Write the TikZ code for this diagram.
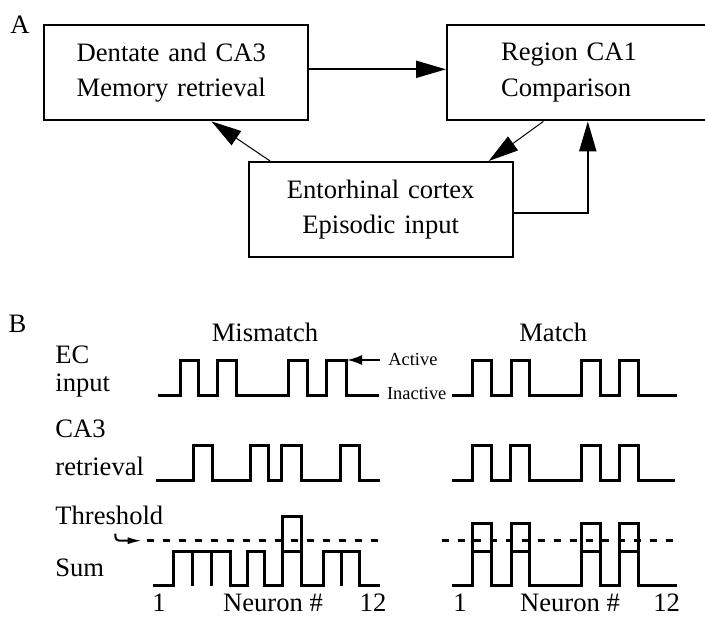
\documentclass[tikz,border=0pt]{standalone}
\usepackage{fontspec}
\setmainfont{Liberation Serif}
\usetikzlibrary{arrows.meta,calc,positioning}
\newcommand{\labelfont}{\fontsize{13.3}{14.2}\selectfont}
\newcommand{\boxfont}{\fontsize{13.3}{17.85}\selectfont}
\newcommand{\tinyfont}{\fontsize{9.2}{11}\selectfont}
\tikzset{
  regionbox/.style={draw,line width=1pt,anchor=north west,align=left,minimum height=47.7pt,inner ysep=0pt,font=\boxfont},
  bigtip/.style={-{Triangle[length=15pt,width=8.5pt]}},
  link/.style={bigtip,line width=1pt},
  thinlink/.style={bigtip,line width=0.5pt},
  wave/.style={line width=1.5pt,line join=miter},
  threshline/.style={line width=1.5pt,dash pattern=on 3.5pt off 4.5pt},
  hookarrow/.style={-{Latex[length=7pt,width=3.5pt]},line width=1pt,rounded corners=2pt},
  activearrow/.style={-{Latex[length=7.5pt,width=5pt]},line width=1pt},
  txt/.style={inner sep=0pt,font=\labelfont},
  smalltxt/.style={inner sep=0pt,font=\tinyfont}
}

\begin{document}
\begin{tikzpicture}[x=0.5pt,y=-0.5pt]
  \clip (0,0) rectangle (705,616);
  \node[txt,anchor=base west] (panelA) at (10,33.3) {A};
  \node[regionbox,text width=99.2pt,inner xsep=16.5pt] (dentate) at (42.7,24) {Dentate and CA3\\Memory retrieval};
  \node[regionbox,text width=88pt,inner xsep=27pt] (ca1) at (446,24) {Region CA1\\Comparison};
  \node[regionbox,align=center,text width=120pt,inner xsep=6pt] (entorhinal) at (247.7,161) {Entorhinal cortex\\Episodic input};
  \draw[link] ([yshift=1.7pt]dentate.east) -- ([yshift=1.7pt]dentate.east -| ca1.west);
  \draw[thinlink] ([xshift=11.2pt]entorhinal.north west) -- ([xshift=84.4pt]dentate.south west);
  \draw[thinlink] ([xshift=48.7pt]ca1.south west) -- ([xshift=-12.5pt]entorhinal.north east);
  \draw[link] ([yshift=-1.7pt]entorhinal.east) -| ([xshift=70.9pt]ca1.south west);

  \node[txt,anchor=base west] (panelB) at (8.3,332.7) {B};
  \node[txt,anchor=base] (mismatchTitle) at (265,341.7) {Mismatch};
  \node[txt,anchor=base] (matchTitle) at (553.3,341.7) {Match};
  \node[txt,anchor=base west] (ecLabel) at (55,363.3) {EC};
  \node[txt,anchor=base west] (ecLabel2) at (55,391) {input};
  \node[txt,anchor=base west] (caLabel) at (55,437) {CA3};
  \node[txt,anchor=base west] (caLabel2) at (55,475) {retrieval};
  \node[txt,anchor=base west] (threshLabel) at (55,524) {Threshold};
  \node[txt,anchor=base west] (sumLabel) at (55,576.7) {Sum};
  \node[smalltxt,anchor=base west] (activeLabel) at (388,365) {Active};
  \node[smalltxt,anchor=base west] (inactiveLabel) at (386.7,399) {Inactive};

  \draw[wave] (158.3,395) -| (180,360) -| (198.3,395) -| (217.7,360) -| (236.7,395) -| (288.3,360) -| (307.3,395) -| (326.7,360) -| (346,395) -- (379.3,395);
  \draw[wave] (451.7,395) -| (472.3,360) -| (491,395) -| (511,360) -| (529.3,395) -| (581,360) -| (600,395) -| (619.3,360) -| (638.3,395) -- (676.7,395);
  \coordinate (ecTop) at (347,360);
  \coordinate (activeTail) at (380,360);
  \draw[activearrow] (activeTail) -- (ecTop);

  \draw[wave] (155.7,480.7) -| (193.3,445) -| (212.3,480.7) -| (250,445) -| (268.3,480.7) -| (281.7,445) -| (301.7,480.7) -| (340,445) -| (359.3,480.7) -- (380,480.7);
  \draw[wave] (451.7,480.7) -| (472.3,445) -| (491,480.7) -| (510,445) -| (529.3,480.7) -| (581,445) -| (600,480.7) -| (619.3,445) -| (638.3,480.7) -- (675,480.7);

  \draw[wave] (153.3,585.7) -| (173.3,551) -| (230,585.7) -| (247.7,551) -| (264.3,585.7) -| (282.7,516.7) -| (301.7,585.7) -| (323.3,551) -| (359.3,585.7) -- (380,585.7);
  \draw[wave] (192.7,551) -- (192.7,585.7) (211.7,551) -- (211.7,585.7) (341.7,551) -- (341.7,585.7) (282.7,551) -- (301.7,551);
  \draw[wave] (451.7,585.7) -| (472.3,523.3) -| (491,585.7) -| (511,523.3) -| (529.3,585.7) -| (581,523.3) -| (600,585.7) -| (619.3,523.3) -| (638.3,585.7) -- (676.7,585.7);
  \draw[wave] (472.3,551.7) -- (491,551.7) (511,551.7) -- (529.3,551.7) (581,551.7) -- (600,551.7) (619.3,551.7) -- (638.3,551.7);

  \draw[threshline] (146.7,540.7) -- (381.7,540.7);
  \draw[threshline] (441.7,540.7) -- (676.7,540.7);
  \coordinate (thrStart) at (141.7,540.7);
  \draw[hookarrow] ([xshift=3pt,yshift=-4.5pt]threshLabel.south) |- (thrStart);

  \node[txt,anchor=base] (firstA) at (159,611.7) {1};
  \node[txt,anchor=base] (neuronA) at (273,611.7) {Neuron \#};
  \node[txt,anchor=base] (lastA) at (373,611.7) {12};
  \node[txt,anchor=base] (firstB) at (460,611.7) {1};
  \node[txt,anchor=base] (neuronB) at (570,611.7) {Neuron \#};
  \node[txt,anchor=base] (lastB) at (666.7,611.7) {12};
\end{tikzpicture}
\end{document}
